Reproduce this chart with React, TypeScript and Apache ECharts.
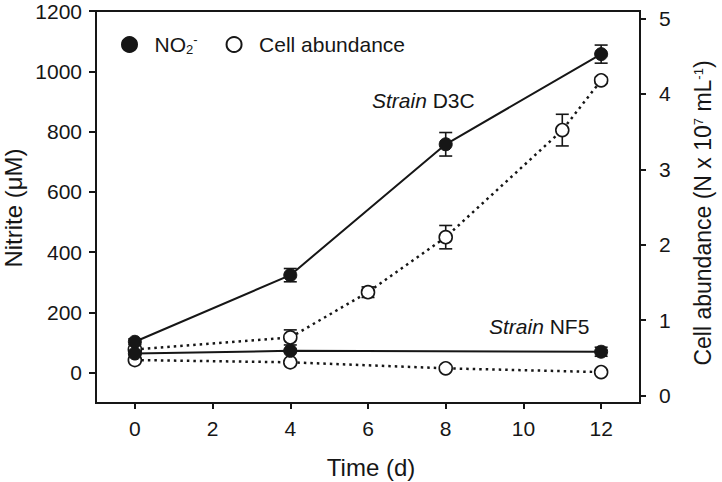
import React, { useEffect, useRef } from "react";
import * as echarts from "echarts";

// Time points (days)
const daysD3CNitrite = [0, 4, 8, 12];
const daysNF5Nitrite = [0, 4, 12];
const daysD3CCells = [0, 4, 6, 8, 11, 12];
const daysNF5Cells = [0, 4, 8, 12];

// Nitrite (µM)
const nitriteD3C = [103, 324, 758, 1057];
const nitriteD3CErr = [10, 22, 39, 30];
const nitriteNF5 = [64, 73, 70];
const nitriteNF5Err = [4, 5, 15];

// Cell abundance (N x 10^7 mL^-1)
const cellsD3C = [0.61, 0.77, 1.37, 2.1, 3.52, 4.18];
const cellsD3CErr = [0.03, 0.1, 0.07, 0.155, 0.21, 0.04];
const cellsNF5 = [0.47, 0.44, 0.36, 0.31];
const cellsNF5Err = [0.02, 0.02, 0.02, 0.02];

// Tick labels
const xTicks = [0, 2, 4, 6, 8, 10, 12];
const leftTicks = [0, 200, 400, 600, 800, 1000, 1200];
const rightTicks = [0, 1, 2, 3, 4, 5];

const FONT = "'Liberation Sans', Arial, Helvetica, sans-serif";
const INK = "#161616";

const pairs = (xs: number[], ys: number[]) => xs.map((x, i) => [x, ys[i]]);
const errs = (xs: number[], ys: number[], es: number[]) =>
  xs.map((x, i) => [x, ys[i] - es[i], ys[i] + es[i]]);

const errorRender = (params: any, api: any) => {
  const x = api.value(0);
  const lo = api.value(1);
  const hi = api.value(2);
  const pHi = api.coord([x, hi]);
  const pLo = api.coord([x, lo]);
  const w = 6.5;
  const style = { stroke: INK, lineWidth: 1.6 };
  return {
    type: "group",
    children: [
      { type: "line", shape: { x1: pHi[0], y1: pHi[1], x2: pLo[0], y2: pLo[1] }, style },
      { type: "line", shape: { x1: pHi[0] - w, y1: pHi[1], x2: pHi[0] + w, y2: pHi[1] }, style },
      { type: "line", shape: { x1: pLo[0] - w, y1: pLo[1], x2: pLo[0] + w, y2: pLo[1] }, style },
    ],
  };
};

export default function App() {
  const ref = useRef<HTMLDivElement>(null);
  useEffect(() => {
    if (!ref.current) return;
    const chart = echarts.init(ref.current, null, { renderer: "svg" });
    const filledLine = {
      type: "line",
      name: "NO2",
      yAxisIndex: 0,
      symbol: "circle",
      symbolSize: 13,
      itemStyle: { color: INK, borderColor: INK, borderWidth: 1 },
      lineStyle: { color: INK, width: 2, type: "solid" },
      z: 4,
    };
    const openLine = {
      type: "line",
      name: "Cell abundance",
      yAxisIndex: 1,
      symbol: "circle",
      symbolSize: 13,
      showAllSymbol: true,
      itemStyle: { color: "#ffffff", borderColor: INK, borderWidth: 1.6 },
      lineStyle: { color: INK, width: 2.5, type: [2.5, 4] },
      z: 3,
    };
    const tickLabel = (v: number) => String(v);
    chart.setOption({
      animation: false,
      textStyle: { fontFamily: FONT },
      grid: {
        left: 96,
        right: 82,
        top: 11,
        bottom: 79,
        show: true,
        borderColor: INK,
        borderWidth: 2,
        backgroundColor: "transparent",
      },
      legend: {
        left: 116,
        top: 28,
        itemWidth: 40,
        itemHeight: 15,
        itemGap: 28,
        icon: "circle",
        data: ["NO2", "Cell abundance"],
        formatter: (name: string) => (name === "NO2" ? "NO{sub|2}{sup|-}" : name),
        textStyle: {
          fontSize: 21,
          color: INK,
          fontFamily: FONT,
          rich: {
            sub: { fontSize: 13, color: INK, fontFamily: FONT, padding: [10, 0, 0, 0] },
            sup: { fontSize: 13, color: INK, fontFamily: FONT, padding: [0, 0, 10, 0] },
          },
        },
      },
      xAxis: {
        type: "value",
        min: -1,
        max: 13,
        axisLine: { show: true, onZero: false, lineStyle: { color: INK, width: 2 } },
        axisTick: { show: true, length: 6, customValues: xTicks, lineStyle: { color: INK, width: 2 } },
        axisLabel: { customValues: xTicks, formatter: tickLabel, fontSize: 21, color: INK, margin: 15, fontFamily: FONT },
        splitLine: { show: false },
      },
      yAxis: [
        {
          type: "value",
          min: -100,
          max: 1200,
          position: "left",
          axisLine: { show: true, onZero: false, lineStyle: { color: INK, width: 2 } },
          axisTick: { show: true, length: 7, customValues: leftTicks, lineStyle: { color: INK, width: 2 } },
          axisLabel: { customValues: leftTicks, formatter: tickLabel, fontSize: 21, color: INK, margin: 14, fontFamily: FONT },
          splitLine: { show: false },
        },
        {
          type: "value",
          min: -0.1,
          max: 5.1,
          position: "right",
          axisLine: { show: true, onZero: false, lineStyle: { color: INK, width: 2 } },
          axisTick: { show: true, length: 6, customValues: rightTicks, lineStyle: { color: INK, width: 2 } },
          axisLabel: { customValues: rightTicks, formatter: tickLabel, fontSize: 21, color: INK, margin: 19, fontFamily: FONT },
          splitLine: { show: false },
        },
      ],
      series: [
        {
          type: "custom",
          yAxisIndex: 0,
          renderItem: errorRender,
          data: errs(daysD3CNitrite, nitriteD3C, nitriteD3CErr),
          z: 2,
          silent: true,
        },
        {
          type: "custom",
          yAxisIndex: 0,
          renderItem: errorRender,
          data: errs(daysNF5Nitrite, nitriteNF5, nitriteNF5Err),
          z: 2,
          silent: true,
        },
        {
          type: "custom",
          yAxisIndex: 1,
          renderItem: errorRender,
          data: errs(daysD3CCells, cellsD3C, cellsD3CErr),
          z: 2,
          silent: true,
        },
        {
          type: "custom",
          yAxisIndex: 1,
          renderItem: errorRender,
          data: errs(daysNF5Cells, cellsNF5, cellsNF5Err),
          z: 2,
          silent: true,
        },
        { ...openLine, data: pairs(daysD3CCells, cellsD3C) },
        { ...openLine, data: pairs(daysNF5Cells, cellsNF5) },
        { ...filledLine, data: pairs(daysD3CNitrite, nitriteD3C) },
        { ...filledLine, data: pairs(daysNF5Nitrite, nitriteNF5) },
      ],
      graphic: [
        {
          type: "text",
          x: 13,
          y: 208,
          rotation: Math.PI / 2,
          style: {
            text: "Nitrite (μM)",
            fontSize: 24,
            fontFamily: FONT,
            fill: INK,
            align: "center",
            verticalAlign: "middle",
          },
        },
        {
          type: "text",
          x: 703,
          y: 213,
          rotation: Math.PI / 2,
          style: {
            text: "Cell abundance (N x 10{sup|7} mL{sup|-1})",
            fontSize: 23,
            fontFamily: FONT,
            fill: INK,
            align: "center",
            verticalAlign: "middle",
            rich: {
              sup: { fontSize: 13, fontFamily: FONT, fill: INK, padding: [0, 0, 10, 0] },
            },
          },
        },
        {
          type: "text",
          x: 371,
          y: 467,
          style: {
            text: "Time (d)",
            fontSize: 24,
            fontFamily: FONT,
            fill: INK,
            align: "center",
            verticalAlign: "middle",
          },
        },
        {
          type: "text",
          x: 372,
          y: 100,
          style: {
            text: "{i|Strain} D3C",
            fontSize: 21,
            fontFamily: FONT,
            fill: INK,
            verticalAlign: "middle",
            rich: { i: { fontStyle: "italic", fontSize: 21, fontFamily: FONT, fill: INK } },
          },
        },
        {
          type: "text",
          x: 489,
          y: 326,
          style: {
            text: "{i|Strain} NF5",
            fontSize: 21,
            fontFamily: FONT,
            fill: INK,
            verticalAlign: "middle",
            rich: { i: { fontStyle: "italic", fontSize: 21, fontFamily: FONT, fill: INK } },
          },
        },
      ],
    });
    return () => chart.dispose();
  }, []);
  return <div ref={ref} style={{ width: 722, height: 482, position: "absolute", left: 0, top: 0 }} />;
}
